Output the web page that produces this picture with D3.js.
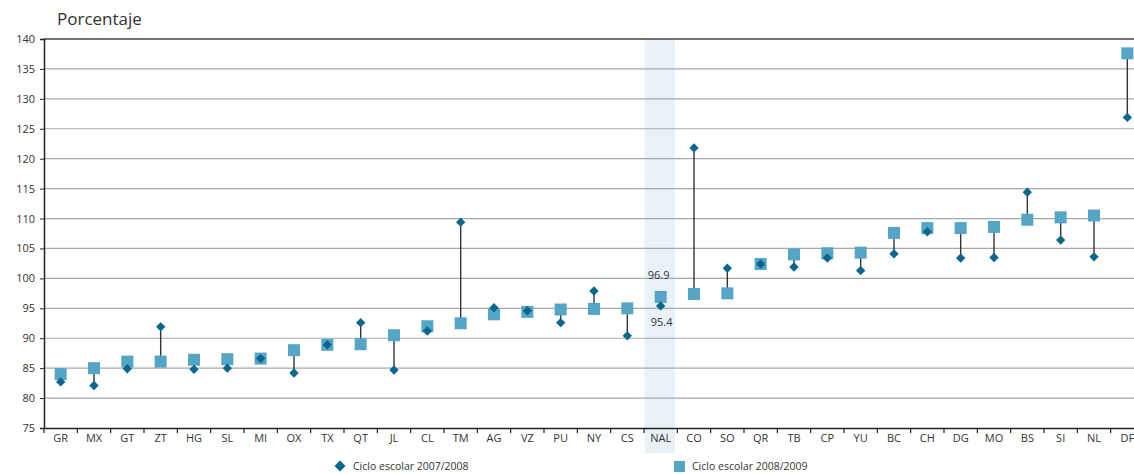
<!DOCTYPE html>
<html><head><meta charset="utf-8">
<script src="https://cdn.jsdelivr.net/npm/d3@7"></script>
<style>body{margin:0;background:#fff;} text{font-family:"Open Sans","Noto Sans",sans-serif;}</style>
</head><body>
<svg id="c" width="1134" height="474"></svg>
<script>
const categories = ["GR","MX","GT","ZT","HG","SL","MI","OX","TX","QT","JL","CL","TM","AG","VZ","PU","NY","CS","NAL","CO","SO","QR","TB","CP","YU","BC","CH","DG","MO","BS","SI","NL","DF"];
const cycle2007 = [82.7,82.1,84.9,91.9,84.8,85.0,86.6,84.2,88.9,92.6,84.7,91.2,109.4,95.1,94.6,92.6,97.9,90.4,95.4,121.8,101.7,102.4,101.9,103.4,101.3,104.1,107.8,103.4,103.5,114.4,106.4,103.6,126.9];
const cycle2008 = [84.0,85.0,86.1,86.1,86.4,86.5,86.6,88.0,88.9,89.0,90.5,92.0,92.5,94.0,94.4,94.8,94.9,95.0,96.9,97.4,97.5,102.4,104.0,104.2,104.3,107.6,108.4,108.4,108.6,109.8,110.2,110.5,137.6];
const yTicks = [75,80,85,90,95,100,105,110,115,120,125,130,135,140];
const seriesNames = ["Ciclo escolar 2007/2008","Ciclo escolar 2008/2009"];
const highlight = "NAL";

(function(){
const svg = d3.select("#c");
const mL = 44, mR = 1144, mT = 39, mB = 428;
const x = d3.scaleBand().domain(categories).range([mL, mR]);
const y = d3.scaleLinear().domain([75,140]).range([mB, mT]);
const dark = "#0b6690", light = "#55a5c6";

// highlight band
svg.append("rect").attr("x", x(highlight)+0.5).attr("width", x.bandwidth()-3)
  .attr("y", mT).attr("height", 453-mT).attr("fill", "#e9f2f7");

// gridlines
svg.append("g").selectAll("line").data(yTicks.filter(d=>d>75)).join("line")
  .attr("x1", mL).attr("x2", 1134).attr("y1", d=>y(d)).attr("y2", d=>y(d))
  .attr("stroke", d=> d===140 ? "#444" : "#a8a8a8").attr("stroke-width", d=> d===140?1.5:1.2);

// y axis
const ya = svg.append("g").attr("transform", `translate(${mL},0)`)
  .call(d3.axisLeft(y).tickValues(yTicks).tickSize(4).tickPadding(5));
ya.select(".domain").attr("stroke","#222").attr("stroke-width",1.5);
ya.selectAll(".tick line").attr("stroke","#222");
ya.selectAll("text").attr("font-size",11).attr("fill","#333");

// x axis
const xa = svg.append("g").attr("transform", `translate(0,${mB})`)
  .call(d3.axisBottom(x).tickSize(0).tickPadding(6));
xa.select(".domain").attr("stroke","#222").attr("stroke-width",1.5);
xa.selectAll("text").attr("font-size",11).attr("fill","#333");
svg.append("g").selectAll("line").data(categories).join("line")
  .attr("x1", d=>x(d)).attr("x2", d=>x(d)).attr("y1", mB).attr("y2", mB+5)
  .attr("stroke","#222").attr("stroke-width",1.2);

const cx = d => x(d) + x.bandwidth()/2;
// connectors
svg.append("g").selectAll("line").data(categories).join("line")
  .attr("x1", cx).attr("x2", cx)
  .attr("y1", (d,i)=>y(cycle2007[i])).attr("y2", (d,i)=>y(cycle2008[i]))
  .attr("stroke","#333").attr("stroke-width",1.4);

// squares (2008/2009)
svg.append("g").selectAll("rect").data(categories).join("rect")
  .attr("x", d=>cx(d)-6).attr("y", (d,i)=>y(cycle2008[i])-6)
  .attr("width",12).attr("height",12).attr("fill", light);

// diamonds (2007/2008)
const diamond = d3.symbol().type(d3.symbolSquare).size(44);
svg.append("g").selectAll("path").data(categories).join("path")
  .attr("d", diamond())
  .attr("transform", (d,i)=>`translate(${cx(d)},${y(cycle2007[i])}) rotate(45)`)
  .attr("fill", dark);

// NAL labels
const ni = categories.indexOf(highlight);
svg.append("text").attr("x", cx(highlight)-2).attr("y", y(cycle2008[ni])-18).attr("text-anchor","middle")
  .attr("font-size",11).attr("fill","#333").text(cycle2008[ni].toFixed(1));
svg.append("text").attr("x", cx(highlight)+1).attr("y", y(cycle2007[ni])+20).attr("text-anchor","middle")
  .attr("font-size",11).attr("fill","#333").text(cycle2007[ni].toFixed(1));

// title
svg.append("text").attr("x",57).attr("y",25).attr("font-size",17).attr("fill","#333").text("Porcentaje");

// legend
svg.append("path").attr("d", d3.symbol().type(d3.symbolSquare).size(60)())
  .attr("transform","translate(340,466) rotate(45)").attr("fill", dark);
svg.append("text").attr("x",353).attr("y",470).attr("font-size",10.5).attr("fill","#333").text(seriesNames[0]);
svg.append("rect").attr("x",674).attr("y",461).attr("width",11).attr("height",11).attr("fill", light);
svg.append("text").attr("x",692).attr("y",470).attr("font-size",10.5).attr("fill","#333").text(seriesNames[1]);
})();
</script>
</body></html>
